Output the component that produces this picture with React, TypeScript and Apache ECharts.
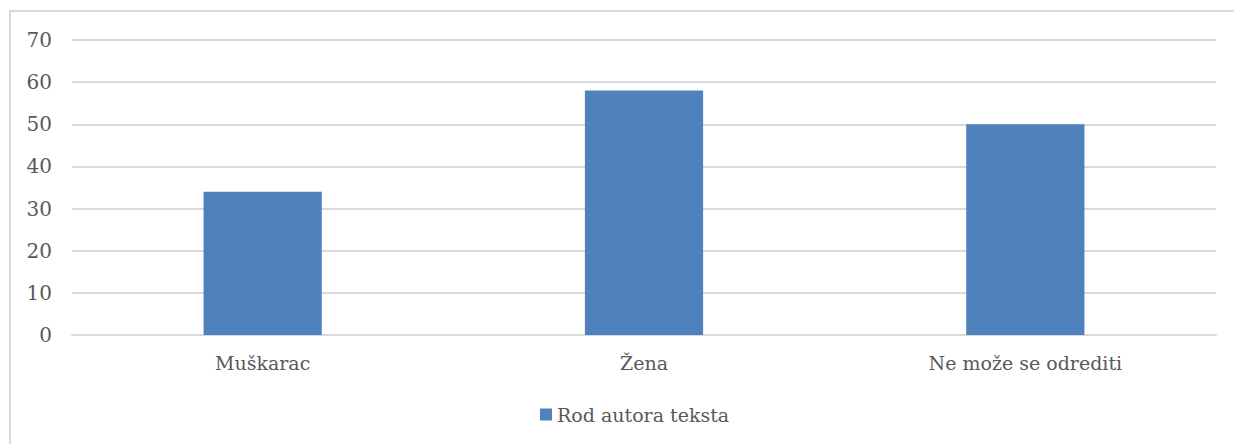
import React, { useEffect, useRef } from "react";
import * as echarts from "echarts";

const categories = ["Muškarac", "Žena", "Ne može se odrediti"];
const values = [34, 58, 50];
const seriesName = "Rod autora teksta";
const yMin = 0;
const yMax = 70;
const yStep = 10;

export default function App() {
  const ref = useRef<HTMLDivElement>(null);
  useEffect(() => {
    if (!ref.current) return;
    const chart = echarts.init(ref.current, undefined, { renderer: "svg" });
    const font = "DejaVu Serif";
    chart.setOption({
      animation: false,
      backgroundColor: "#ffffff",
      textStyle: { fontFamily: font },
      graphic: [
        {
          type: "rect",
          shape: { x: 10, y: 11, width: 1240, height: 450 },
          style: { fill: "none", stroke: "#D9D9D9", lineWidth: 2 },
          silent: true,
        },
      ],
      grid: { left: 72, right: 18, top: 40, bottom: 109, containLabel: false },
      legend: {
        data: [seriesName],
        left: 535,
        top: 400,
        icon: "rect",
        itemWidth: 12,
        itemHeight: 12,
        itemGap: 10,
        textStyle: { fontFamily: font, fontSize: 19, color: "#595959", padding: [0, 0, 0, 0] },
      },
      xAxis: {
        type: "category",
        data: categories,
        axisLine: { show: true, lineStyle: { color: "#D9D9D9", width: 2 } },
        axisTick: { show: false },
        axisLabel: { fontFamily: font, fontSize: 19, color: "#595959", margin: 18 },
      },
      yAxis: {
        type: "value",
        min: yMin,
        max: yMax,
        interval: yStep,
        axisLine: { show: false },
        axisTick: { show: false },
        axisLabel: { fontFamily: font, fontSize: 20, color: "#595959", margin: 20 },
        splitLine: { lineStyle: { color: "#D9D9D9", width: 2 } },
      },
      series: [
        {
          name: seriesName,
          type: "bar",
          data: values,
          barWidth: "31%",
          itemStyle: { color: "#4F81BD" },
        },
      ],
    });
    return () => chart.dispose();
  }, []);
  return (
    <div
      ref={ref}
      style={{ position: "absolute", left: 0, top: 0, width: 1234, height: 444 }}
    />
  );
}
